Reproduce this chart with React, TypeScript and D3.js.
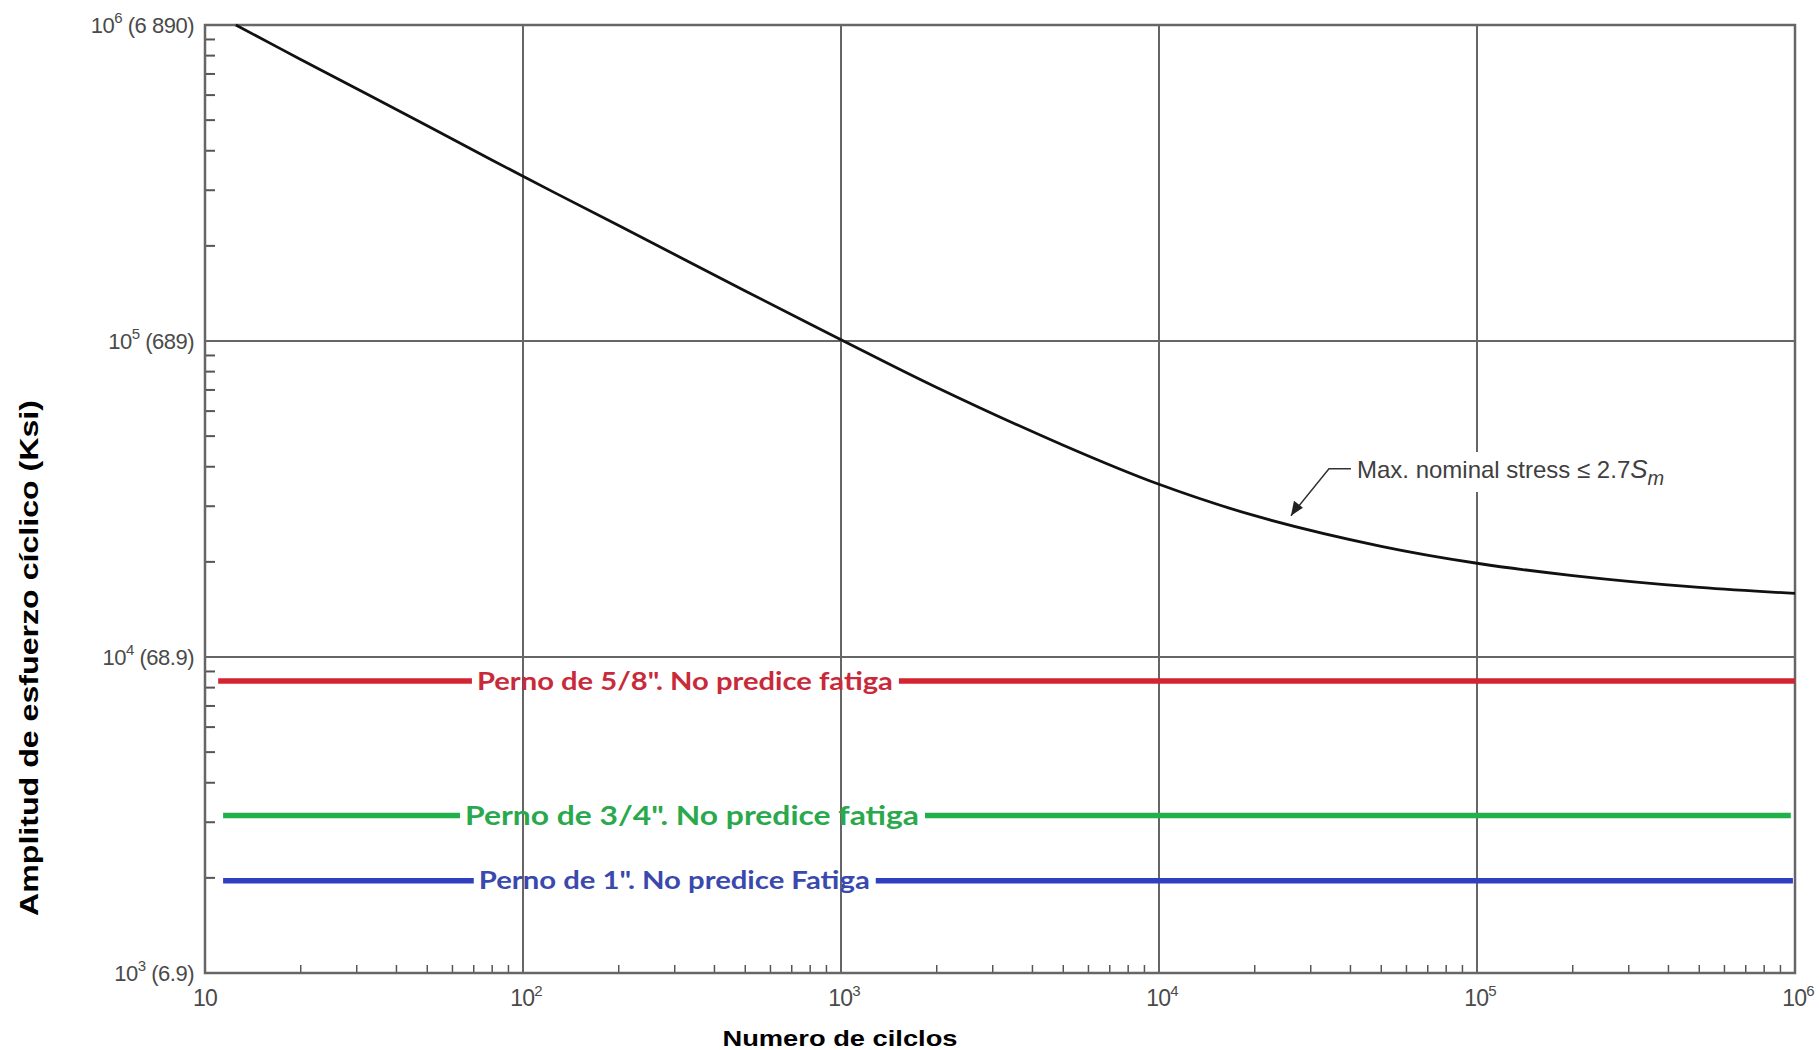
import React from 'react';
import * as d3 from 'd3';

// curva de diseño (ciclos vs amplitud en psi)
const cycles = [12.5, 20, 50, 100, 200, 500, 1000, 2000, 5000, 1e4, 2e4, 5e4, 1e5, 2e5, 5e5, 1e6];
const amplitudes = [1000000, 778000, 480000, 332000, 232000, 144000, 101000, 71300, 46800, 35200, 28000, 22400, 19800, 18100, 16600, 15900];

// pernos: nivel de esfuerzo (psi)
const boltLabels = ['Perno de 5/8". No predice fatiga', 'Perno de 3/4". No predice fatiga', 'Perno de 1". No predice Fatiga'];
const boltStress = [8400, 3150, 1960];
const boltStart = [11, 11.4, 11.4];
const boltEnd = [1e6, 9.7e5, 9.85e5];
const boltLabelAt = [323, 340, 299];
const boltColors = ['#d42331', '#22b04b', '#2f3fbf'];
const boltTextColors = ['#c92a3a', '#2aa94c', '#3a49ad'];

const xDecades = [10, 100, 1000, 1e4, 1e5, 1e6];
const xExp = ['', '2', '3', '4', '5', '6'];
const yDecades = [1e3, 1e4, 1e5, 1e6];
const yExp = ['3', '4', '5', '6'];
const yMpa = ['(6.9)', '(68.9)', '(689)', '(6 890)'];

const noteTip = [2.6e4, 28000];

const W = 1819;
const H = 1050;
const margin = { top: 25, right: 24, bottom: 77, left: 205 };

export default function App() {
  const x = d3.scaleLog().domain([10, 1e6]).range([margin.left, W - margin.right]);
  const y = d3.scaleLog().domain([1e3, 1e6]).range([H - margin.bottom, margin.top]);

  const pts = cycles.map((c, i) => [c, amplitudes[i]] as [number, number]);
  const line = d3.line<[number, number]>()
    .x(d => x(d[0]))
    .y(d => y(d[1]))
    .curve(d3.curveCatmullRom.alpha(0.5));

  const minorX: number[] = [];
  for (let k = 1; k < 6; k++) for (let m = 2; m < 10; m++) minorX.push(m * Math.pow(10, k));
  const minorY: number[] = [];
  for (let k = 3; k < 6; k++) for (let m = 2; m < 10; m++) minorY.push(m * Math.pow(10, k));

  const x0 = x.range()[0], x1 = x.range()[1];
  const y0 = y.range()[0], y1 = y.range()[1];
  const grid = '#666';
  const labelWidths = [416, 454, 391];
  const labelSizes = [25, 27, 25];

  const tx = x(noteTip[0]), ty = y(noteTip[1]);

  return (
    <svg width={W} height={H} style={{ position: 'absolute', left: 0, top: 0, background: '#fff' }}>
      {/* rejilla */}
      {xDecades.slice(1, -1).map(v => (
        <line key={'gx' + v} x1={x(v)} x2={x(v)} y1={y1} y2={y0} stroke={grid} strokeWidth={2} />
      ))}
      {yDecades.slice(1, -1).map(v => (
        <line key={'gy' + v} x1={x0} x2={x1} y1={y(v)} y2={y(v)} stroke={grid} strokeWidth={2} />
      ))}
      {/* ticks menores */}
      {minorX.map(v => (
        <line key={'mx' + v} x1={x(v)} x2={x(v)} y1={y0} y2={y0 - 8} stroke="#555" strokeWidth={1.5} />
      ))}
      {minorY.map(v => (
        <line key={'my' + v} x1={x0} x2={x0 + 10} y1={y(v)} y2={y(v)} stroke="#555" strokeWidth={2} />
      ))}
      <rect x={x0} y={y1} width={x1 - x0} height={y0 - y1} fill="none" stroke={grid} strokeWidth={2.5} />

      {/* curva */}
      <path d={line(pts) || ''} fill="none" stroke="#111" strokeWidth={2.8} />

      {/* anotación */}
      <rect x={1352} y={452} width={335} height={40} fill="#fff" />
      <polyline points={`${tx},${ty} ${tx + 38},${ty - 47} ${tx + 60},${ty - 47}`} fill="none" stroke="#333" strokeWidth={1.5} />
      <path d={`M${tx},${ty} l3,-15 l9,7 z`} fill="#222" />
      <text x={tx + 66} y={ty - 38} fontFamily="Liberation Sans, Arial, sans-serif" fontSize={24} fill="#3f3f3f">
        Max. nominal stress ≤ 2.7<tspan fontStyle="italic" fontSize={26}>S</tspan>
        <tspan fontStyle="italic" fontSize={20} dy={7}>m</tspan>
      </text>

      {/* pernos */}
      {boltStress.map((s, i) => {
        const cx = x(boltLabelAt[i]);
        const half = labelWidths[i] / 2;
        const yy = y(s);
        return (
          <g key={'b' + i}>
            <line x1={x(boltStart[i])} x2={cx - half - 5} y1={yy} y2={yy} stroke={boltColors[i]} strokeWidth={5.5} />
            <line x1={cx + half + 6} x2={x(boltEnd[i])} y1={yy} y2={yy} stroke={boltColors[i]} strokeWidth={5.5} />
            <text x={cx} y={yy} dy="0.35em" textAnchor="middle" fontFamily="Lato, 'Open Sans', sans-serif" fontWeight="bold"
              fontSize={labelSizes[i]} fill={boltTextColors[i]} textLength={labelWidths[i]} lengthAdjust="spacingAndGlyphs">
              {boltLabels[i]}
            </text>
          </g>
        );
      })}

      {/* etiquetas eje y */}
      {yDecades.map((v, i) => (
        <text key={'ty' + v} x={x0 - 11} y={y(v) + 8} textAnchor="end" fontFamily="Liberation Sans, Arial, sans-serif"
          fontSize={22} fill="#4a4a4a" letterSpacing={-0.5}>
          10<tspan fontSize={15} dy={-10}>{yExp[i]}</tspan><tspan dy={10}> {yMpa[i]}</tspan>
        </text>
      ))}
      {/* etiquetas eje x */}
      {xDecades.map((v, i) => (
        <text key={'tx' + v} x={x(v) + (i === 0 ? 0 : 3)} y={y0 + 33} textAnchor="middle" fontFamily="Liberation Sans, Arial, sans-serif"
          fontSize={23} fill="#4a4a4a" letterSpacing={-0.8}>
          10{xExp[i] && <tspan fontSize={15} dy={-10}>{xExp[i]}</tspan>}
        </text>
      ))}

      <text x={840} y={1046} textAnchor="middle" fontFamily="Liberation Sans, Arial, sans-serif" fontWeight="bold"
        fontSize={22} fill="#000" textLength={235} lengthAdjust="spacingAndGlyphs">
        Numero de cilclos
      </text>
      <text transform="translate(38,658) rotate(-90)" textAnchor="middle" fontFamily="Liberation Sans, Arial, sans-serif"
        fontWeight="bold" fontSize={26} fill="#000" textLength={516} lengthAdjust="spacingAndGlyphs">
        Amplitud de esfuerzo cíclico (Ksi)
      </text>
    </svg>
  );
}
